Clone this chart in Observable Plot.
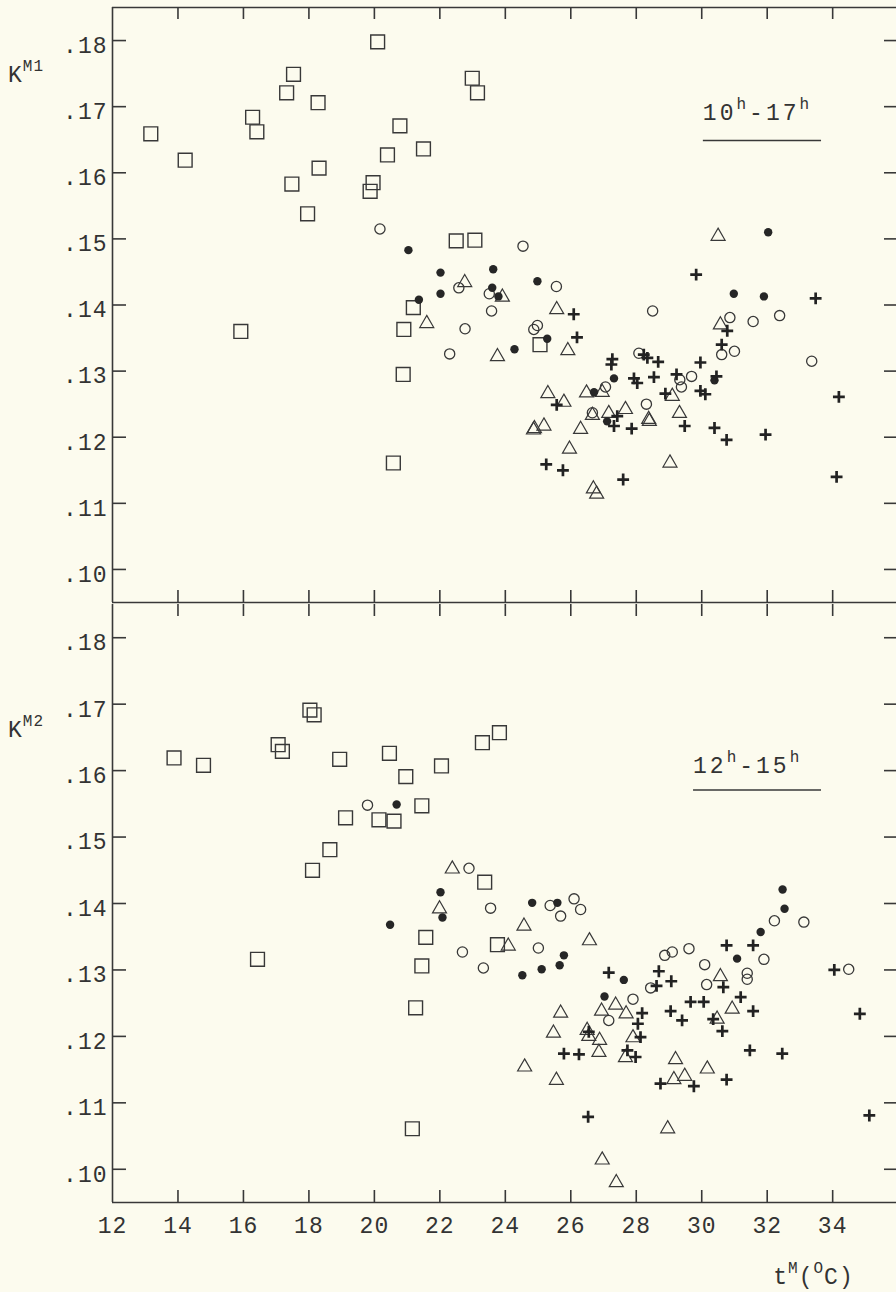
<!DOCTYPE html>
<html><head><meta charset="utf-8">
<script src="https://cdn.jsdelivr.net/npm/d3@7"></script>
<script src="https://cdn.jsdelivr.net/npm/@observablehq/plot@0.6"></script>
<style>
html,body{margin:0;padding:0;background:#fcfbee;overflow:hidden;}
#chart svg{display:block;}
</style></head><body><div id="chart"></div>
<script>
// ---- axis values ----
const tDomain = [12, 35.95];
const kDomain = [0.095, 0.185];
const xTickMarks = [14, 16, 18, 20, 22, 24, 26, 28, 30, 32, 34];
const xTickLabels = [12, 14, 16, 18, 20, 22, 24, 26, 28, 30, 32, 34];
const kTicks = [0.10, 0.11, 0.12, 0.13, 0.14, 0.15, 0.16, 0.17, 0.18];

// ---- panel 1: K^M1, 10h-17h  [t^M (°C), K] ----
const squaresTop = [[13.17,.1659],[14.22,.1619],[15.92,.1360],[16.28,.1684],[16.41,.1662],[17.32,.1721],[17.53,.1749],[17.48,.1583],[17.96,.1538],[18.28,.1706],[18.31,.1607],[19.87,.1572],[19.96,.1585],[20.10,.1798],[20.40,.1627],[20.58,.1161],[20.78,.1671],[20.88,.1295],[20.90,.1363],[21.19,.1396],[21.50,.1636],[22.50,.1497],[22.99,.1743],[23.07,.1498],[23.15,.1721],[25.06,.1340]];
const circlesTop = [[20.17,.1515],[22.30,.1326],[22.58,.1426],[22.77,.1364],[23.51,.1417],[23.58,.1391],[24.54,.1489],[24.87,.1363],[24.98,.1369],[25.56,.1428],[26.66,.1237],[27.06,.1276],[28.08,.1327],[28.31,.1250],[28.50,.1391],[29.33,.1287],[29.38,.1276],[29.69,.1292],[30.61,.1325],[30.86,.1381],[31.00,.1330],[31.57,.1375],[32.38,.1384],[33.36,.1315]];
const dotsTop = [[21.04,.1483],[21.36,.1408],[22.02,.1449],[22.02,.1417],[23.60,.1426],[23.63,.1454],[23.79,.1413],[24.28,.1333],[24.98,.1436],[25.28,.1349],[26.71,.1268],[27.11,.1224],[27.32,.1289],[30.39,.1286],[30.98,.1417],[31.90,.1413],[32.03,.1510]];
const trianglesTop = [[21.60,.1372],[22.76,.1434],[23.76,.1322],[23.91,.1412],[24.89,.1213],[24.86,.1211],[25.18,.1217],[25.30,.1266],[25.57,.1393],[25.79,.1253],[25.91,.1331],[25.96,.1182],[26.30,.1212],[26.48,.1267],[26.66,.1233],[26.69,.1122],[26.79,.1114],[26.96,.1268],[27.16,.1236],[27.67,.1242],[28.38,.1227],[28.40,.1224],[29.03,.1161],[29.10,.1262],[29.32,.1236],[30.50,.1504],[30.57,.1370]];
const crossesTop = [[25.25,.1159],[25.57,.1249],[25.76,.1150],[26.09,.1386],[26.19,.1351],[27.24,.1310],[27.27,.1318],[27.32,.1217],[27.42,.1232],[27.60,.1136],[27.86,.1213],[27.93,.1289],[28.03,.1282],[28.23,.1325],[28.34,.1320],[28.54,.1291],[28.67,.1314],[28.89,.1266],[29.23,.1295],[29.48,.1217],[29.83,.1446],[29.96,.1313],[29.96,.1270],[30.11,.1265],[30.39,.1214],[30.45,.1292],[30.61,.1340],[30.76,.1196],[30.78,.1361],[31.95,.1204],[33.48,.1410],[34.12,.1140],[34.19,.1261]];

// ---- panel 2: K^M2, 12h-15h ----
const squaresBottom = [[13.88,.1619],[14.78,.1608],[16.43,.1316],[17.06,.1639],[17.19,.1629],[18.03,.1691],[18.11,.1450],[18.16,.1684],[18.64,.1481],[18.94,.1617],[19.12,.1529],[20.14,.1526],[20.46,.1626],[20.60,.1524],[20.96,.1591],[21.16,.1061],[21.26,.1243],[21.45,.1306],[21.45,.1547],[21.57,.1349],[22.05,.1607],[23.37,.1432],[23.30,.1642],[23.76,.1338],[23.82,.1657]];
const circlesBottom = [[19.79,.1548],[22.69,.1327],[22.89,.1453],[23.33,.1303],[23.55,.1393],[25.01,.1333],[25.37,.1397],[25.69,.1381],[26.10,.1407],[26.30,.1391],[27.16,.1224],[27.90,.1256],[28.44,.1273],[28.87,.1322],[29.10,.1327],[29.61,.1332],[30.09,.1308],[30.15,.1278],[31.39,.1295],[31.39,.1286],[31.90,.1316],[32.22,.1374],[33.12,.1372],[34.49,.1301]];
const dotsBottom = [[20.48,.1368],[20.68,.1549],[22.02,.1417],[22.08,.1379],[24.52,.1292],[24.82,.1401],[25.11,.1301],[25.59,.1401],[25.66,.1307],[25.79,.1322],[27.03,.1260],[27.62,.1285],[31.08,.1317],[31.80,.1357],[32.47,.1421],[32.53,.1392]];
const trianglesBottom = [[21.99,.1392],[22.38,.1452],[24.09,.1336],[24.57,.1366],[24.59,.1154],[25.47,.1205],[25.56,.1134],[25.69,.1235],[26.50,.1209],[26.55,.1200],[26.57,.1344],[26.86,.1176],[26.88,.1194],[26.94,.1238],[26.96,.1014],[27.37,.1247],[27.39,.0980],[27.67,.1168],[27.69,.1234],[27.90,.1198],[28.96,.1061],[29.15,.1135],[29.20,.1165],[29.48,.1140],[30.17,.1151],[30.47,.1226],[30.57,.1290],[30.93,.1241]];
const crossesBottom = [[25.79,.1174],[26.25,.1173],[26.53,.1079],[26.55,.1207],[27.16,.1296],[27.73,.1179],[27.98,.1169],[28.05,.1219],[28.13,.1199],[28.18,.1235],[28.62,.1276],[28.69,.1298],[28.74,.1129],[29.05,.1238],[29.07,.1283],[29.40,.1224],[29.66,.1252],[29.76,.1125],[30.06,.1252],[30.35,.1226],[30.63,.1208],[30.66,.1274],[30.76,.1135],[30.76,.1337],[31.19,.1259],[31.47,.1179],[31.57,.1337],[31.57,.1238],[32.46,.1174],[34.05,.1300],[34.83,.1234],[35.12,.1081]];

const W = 896, ML = 112;
const ink = "#383838";
const font = "'Liberation Mono', 'DejaVu Sans Mono', monospace";

function panel(cfg) {
  const {height, mt, mb, sets, showX} = cfg;
  const frameH = height - mt - mb;
  const fw = W - ML;
  const px = d => d[0], py = d => d[1];
  const marks = [
    Plot.ruleX([12], {stroke: ink, strokeWidth: 1.6}),
    Plot.ruleY(cfg.edges, {stroke: ink, strokeWidth: 1.6}),
    Plot.tickY(kTicks, {y: d => d, insetRight: fw - 14, stroke: ink, strokeWidth: 1.6}),
    Plot.tickY(kTicks, {y: d => d, insetLeft: fw - 12, stroke: ink, strokeWidth: 1.6}),
    Plot.tickX(xTickMarks, {x: d => d, insetBottom: frameH - 12, stroke: ink, strokeWidth: 1.6}),
    Plot.tickX(xTickMarks, {x: d => d, insetTop: frameH - 12, stroke: ink, strokeWidth: 1.6}),
    Plot.axisY(kTicks, {anchor: "left", tickSize: 0, tickPadding: 5, dy: 5, fill: "#333", label: null,
      tickFormat: d => "." + Math.round(d * 100)}),
    Plot.dot(sets.squares, {x: px, y: py, symbol: "square", r: 7.8, stroke: ink, strokeWidth: 1.4, fill: "none"}),
    Plot.dot(sets.triangles, {x: px, y: py, symbol: "triangle", r: 5.2, stroke: ink, strokeWidth: 1.2, fill: "none"}),
    Plot.dot(sets.circles, {x: px, y: py, symbol: "circle", r: 5.1, stroke: ink, strokeWidth: 1.3, fill: "none"}),
    Plot.dot(sets.dots, {x: px, y: py, symbol: "circle", r: 4.2, fill: "#262626", stroke: "none"}),
    Plot.dot(sets.crosses, {x: px, y: py, symbol: "plus", r: 3.9, stroke: "#222", strokeWidth: 2.7})
  ];
  if (showX) marks.push(Plot.axisX(xTickLabels, {anchor: "bottom", tickSize: 0, tickPadding: 14, fill: "#333", label: null, tickFormat: d => String(d)}));
  return Plot.plot({
    width: W, height, marginLeft: ML, marginRight: 0, marginTop: mt, marginBottom: mb,
    x: {domain: tDomain, axis: null},
    y: {domain: kDomain, axis: null},
    style: {background: "#fcfbee", fontFamily: font, fontSize: "23px", letterSpacing: "1px", color: "#333", overflow: "visible"},
    marks
  });
}

function richText(svg, x, y, parts, spacing = 1) {
  const t = d3.select(svg).append("text")
    .attr("x", x).attr("y", y).attr("fill", "#333").attr("text-anchor", "start")
    .style("font-family", font).style("font-size", "23px").style("letter-spacing", spacing + "px");
  let up = false;
  for (const [s, sup] of parts) {
    const sp = t.append("tspan").text(s);
    if (sup && !up) { sp.attr("dy", -11).style("font-size", "16px"); up = true; }
    else if (sup) { sp.style("font-size", "16px"); }
    else if (!sup && up) { sp.attr("dy", 11); up = false; }
  }
  return t;
}

const top1 = panel({height: 603, mt: 7, mb: 1, edges: [0.185, 0.095], showX: false,
  sets: {squares: squaresTop, circles: circlesTop, dots: dotsTop, triangles: trianglesTop, crosses: crossesTop}});
const bot = panel({height: 689, mt: 1, mb: 90, edges: [0.095], showX: true,
  sets: {squares: squaresBottom, circles: circlesBottom, dots: dotsBottom, triangles: trianglesBottom, crosses: crossesBottom}});

document.getElementById("chart").append(top1, bot);

// annotations
{
  const sx = top1.scale("x"), sy = top1.scale("y");
  richText(top1, 8, 82, [["K", false], ["M1", true]]);
  const x0 = sx.apply(30.05);
  richText(top1, x0, sy.apply(0.1679), [["10", false], ["h", true], ["-17", false], ["h", true]], 3);
  d3.select(top1).append("line").attr("x1", x0).attr("x2", sx.apply(33.66))
    .attr("y1", sy.apply(0.1648)).attr("y2", sy.apply(0.1648)).attr("stroke", ink).attr("stroke-width", 1.5);
}
{
  const sx = bot.scale("x"), sy = bot.scale("y");
  richText(bot, 8, sy.apply(0.1650), [["K", false], ["M2", true]]);
  const x0 = sx.apply(29.75);
  richText(bot, x0, sy.apply(0.1595), [["12", false], ["h", true], ["-15", false], ["h", true]], 3);
  d3.select(bot).append("line").attr("x1", x0).attr("x2", sx.apply(33.66))
    .attr("y1", sy.apply(0.1570)).attr("y2", sy.apply(0.1570)).attr("stroke", ink).attr("stroke-width", 1.5);
  richText(bot, sx.apply(32.2), sy.apply(0.095) + 82, [["t", false], ["M", true], ["(", false], ["O", true], ["C)", false]]);
}
</script></body></html>
